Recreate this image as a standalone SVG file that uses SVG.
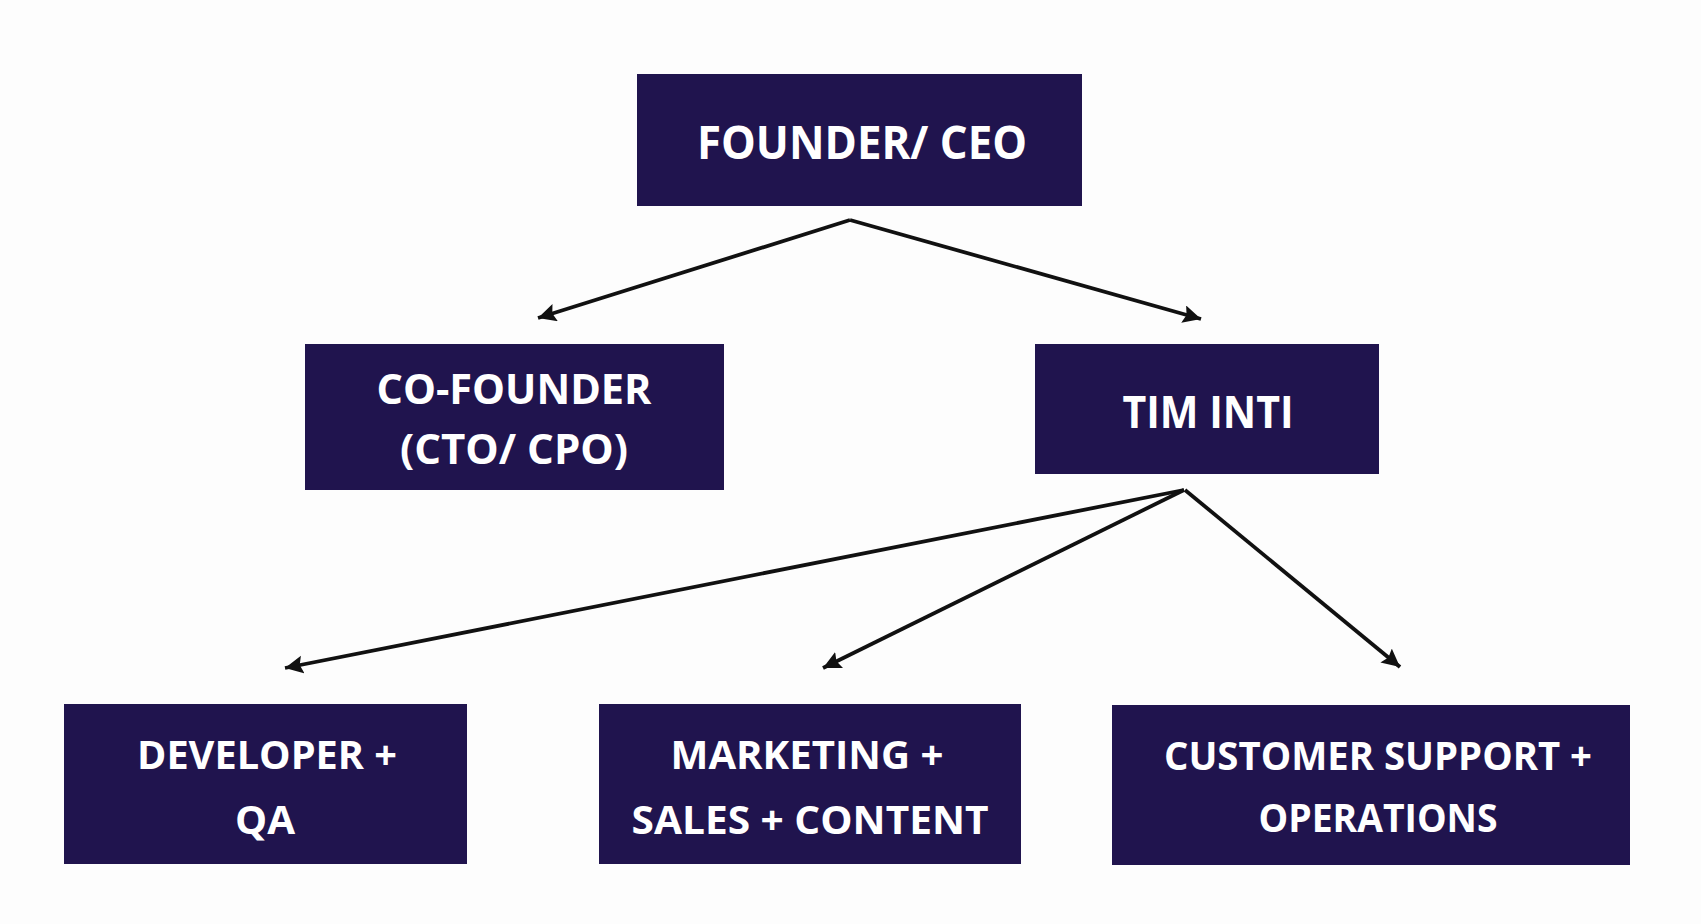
<svg xmlns="http://www.w3.org/2000/svg" width="1701" height="924" viewBox="0 0 1701 924">
<style>
.box{fill:#20144e}
.t{fill:#ffffff;font-family:"Open Sans","Liberation Sans",sans-serif;font-weight:700;text-anchor:middle}
.conn{stroke:#111111;stroke-width:3.8;fill:none;marker-end:url(#ah)}
</style>
<defs>
<marker id="ah" markerUnits="userSpaceOnUse" markerWidth="24" markerHeight="24" refX="18" refY="9" orient="auto">
<path d="M0,0 L18,9 L0,18 L3,9 Z" fill="#111111"/>
</marker>
</defs>
<rect width="1701" height="924" fill="#fdfdfd"/>
<g id="connectors">
<line class="conn" x1="850" y1="220" x2="538" y2="318"/>
<line class="conn" x1="850" y1="220" x2="1201" y2="319"/>
<line class="conn" x1="1184" y1="490" x2="285" y2="668"/>
<line class="conn" x1="1184" y1="490" x2="823" y2="668"/>
<line class="conn" x1="1185" y1="490" x2="1400" y2="667"/>
</g>
<g id="ceo">
<rect class="box" x="637" y="74" width="445" height="132"/>
<text class="t" x="862" y="159" font-size="46" textLength="330" lengthAdjust="spacingAndGlyphs">FOUNDER/ CEO</text>
</g>
<g id="cofounder">
<rect class="box" x="305" y="344" width="419" height="146"/>
<text class="t" x="514" y="404" font-size="41" textLength="275" lengthAdjust="spacingAndGlyphs">CO-FOUNDER</text>
<text class="t" x="514" y="464" font-size="41" textLength="228" lengthAdjust="spacingAndGlyphs">(CTO/ CPO)</text>
</g>
<g id="timinti">
<rect class="box" x="1035" y="344" width="344" height="130"/>
<text class="t" x="1208" y="428" font-size="45" textLength="171" lengthAdjust="spacingAndGlyphs">TIM INTI</text>
</g>
<g id="developer">
<rect class="box" x="64" y="704" width="403" height="160"/>
<text class="t" x="267" y="769" font-size="40" textLength="260" lengthAdjust="spacingAndGlyphs">DEVELOPER +</text>
<text class="t" x="265" y="834" font-size="40" textLength="60" lengthAdjust="spacingAndGlyphs">QA</text>
</g>
<g id="marketing">
<rect class="box" x="599" y="704" width="422" height="160"/>
<text class="t" x="807" y="769" font-size="40" textLength="273" lengthAdjust="spacingAndGlyphs">MARKETING +</text>
<text class="t" x="810" y="834" font-size="40" textLength="357" lengthAdjust="spacingAndGlyphs">SALES + CONTENT</text>
</g>
<g id="customer">
<rect class="box" x="1112" y="705" width="518" height="160"/>
<text class="t" x="1378" y="770" font-size="39" textLength="428" lengthAdjust="spacingAndGlyphs">CUSTOMER SUPPORT +</text>
<text class="t" x="1378" y="832" font-size="39" textLength="239" lengthAdjust="spacingAndGlyphs">OPERATIONS</text>
</g>
</svg>
